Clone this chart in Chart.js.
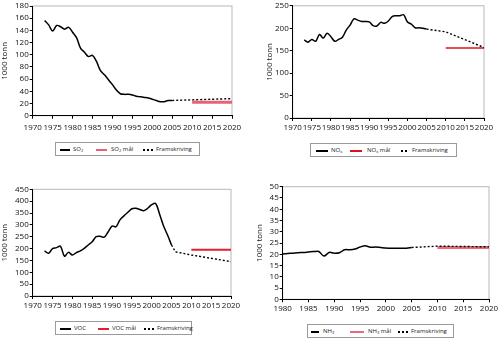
<!DOCTYPE html>
<html>
<head>
<meta charset="utf-8">
<script src="https://cdn.jsdelivr.net/npm/chart.js@4.4.1/dist/chart.umd.min.js"></script>
<style>
  body { margin: 0; width: 500px; height: 338px; background: #fff; position: relative; overflow: hidden; font-family: "Open Sans", sans-serif; }
  canvas { position: absolute; }
  .legend { position: absolute; border: 1px solid #9a9a9a; height: 14px; font-size: 6px; color: #222; box-sizing: border-box; }
  .legend .s { position: absolute; top: 6px; }
  .legend .t { position: absolute; top: 0; line-height: 12px; white-space: nowrap; }
  .legend sub { font-size: 4px; vertical-align: -1px; }
  .solid { height: 1.5px; background: #000; }
  .dash { height: 1.5px; background: repeating-linear-gradient(90deg, #000 0 2px, transparent 2px 4px); }
</style>
</head>
<body>
<canvas id="so2Chart" width="250" height="135" style="left:0;top:0"></canvas>
<canvas id="noxChart" width="235" height="138" style="left:265px;top:0"></canvas>
<canvas id="vocChart" width="250" height="135" style="left:0;top:180px"></canvas>
<canvas id="nh3Chart" width="245" height="140" style="left:255px;top:178px"></canvas>

<div class="legend" style="left:55px;top:142px;width:145px">
  <span class="s solid" style="left:4px;width:10px"></span><span class="t" style="left:17px">SO<sub>2</sub></span>
  <span class="s" style="left:40px;width:11px;height:2.5px;background:#e8607a;top:5.5px"></span><span class="t" style="left:55px">SO<sub>2</sub> mål</span>
  <span class="s dash" style="left:87px;width:10px"></span><span class="t" style="left:100px">Framskriving</span>
</div>
<div class="legend" style="left:310px;top:143px;width:147px">
  <span class="s solid" style="left:5px;width:12px"></span><span class="t" style="left:20px">NO<sub>x</sub></span>
  <span class="s" style="left:39px;width:12px;height:1.5px;background:#e0101e"></span><span class="t" style="left:56px">NO<sub>x</sub> mål</span>
  <span class="s dash" style="left:90px;width:8px"></span><span class="t" style="left:101px">Framskriving</span>
</div>
<div class="legend" style="left:55px;top:321px;width:137px">
  <span class="s solid" style="left:4px;width:11px"></span><span class="t" style="left:18px">VOC</span>
  <span class="s" style="left:42px;width:11px;height:1.8px;background:#e02030"></span><span class="t" style="left:56px">VOC mål</span>
  <span class="s dash" style="left:88px;width:10px"></span><span class="t" style="left:101px">Framskriving</span>
</div>
<div class="legend" style="left:307px;top:324px;width:147px">
  <span class="s solid" style="left:3px;width:8px"></span><span class="t" style="left:15px">NH<sub>3</sub></span>
  <span class="s" style="left:42px;width:14px;height:2.5px;background:#e86a7c;top:5.5px"></span><span class="t" style="left:60px">NH<sub>3</sub> mål</span>
  <span class="s dash" style="left:90px;width:10px"></span><span class="t" style="left:103px">Framskriving</span>
</div>

<script>
// SO2
var so2Years = [1973, 1974, 1975, 1976, 1977, 1978, 1979, 1980, 1981, 1982, 1983, 1984, 1985, 1986, 1987, 1988, 1989,
  1990, 1991, 1992, 1993, 1994, 1995, 1996, 1997, 1998, 1999, 2000, 2001, 2002, 2003, 2004, 2005];
var so2Values = [156, 149, 139, 148, 146, 142, 145, 137, 128, 111, 104, 97, 99, 89, 74, 67, 59,
  51, 42, 36, 35, 35, 34, 32, 31, 30, 29, 27, 25, 23, 23, 25, 25];
var so2GoalYears = [2010, 2020];
var so2GoalValues = [22, 22];
var so2ProjYears = [2005, 2010, 2020];
var so2ProjValues = [25, 26, 28];

// NOx
var noxYears = so2Years;
var noxValues = [174, 169, 175, 171, 186, 178, 189, 181, 171, 175, 180, 196, 207, 221, 218, 215, 215,
  214, 206, 205, 213, 211, 216, 226, 228, 228, 230, 214, 209, 201, 201, 200, 198];
var noxGoalYears = [2010, 2020];
var noxGoalValues = [156, 156];
var noxProjYears = [2005, 2010, 2020];
var noxProjValues = [198, 192, 157];

// VOC
var vocYears = so2Years;
var vocValues = [190, 180, 200, 204, 210, 168, 184, 173, 183, 190, 201, 215, 229, 250, 252, 248, 270,
  295, 292, 321, 338, 353, 368, 370, 365, 360, 370, 385, 390, 345, 295, 257, 215];
var vocGoalYears = [2010, 2020];
var vocGoalValues = [195, 195];
var vocProjYears = [2005, 2006, 2010, 2020];
var vocProjValues = [215, 186, 173, 145];

// NH3
var nh3Years = [1980, 1981, 1982, 1983, 1984, 1985, 1986, 1987, 1988, 1989, 1990, 1991, 1992,
  1993, 1994, 1995, 1996, 1997, 1998, 1999, 2000, 2001, 2002, 2003, 2004, 2005];
var nh3Values = [20.1, 20.3, 20.5, 20.7, 20.8, 21.0, 21.2, 21.2, 19.2, 20.8, 20.5, 20.7, 22.0,
  22.0, 22.3, 23.2, 23.8, 23.1, 23.2, 23.0, 22.8, 22.7, 22.7, 22.7, 22.7, 23.0];
var nh3GoalYears = [2010, 2020];
var nh3GoalValues = [23, 23];
var nh3ProjYears = [2005, 2010, 2020];
var nh3ProjValues = [23.0, 23.6, 23.3];

function pts(xs, ys) {
  return xs.map(function (x, i) {
    return { x: x, y: ys[i] };
  });
}

// gray box round the plot area, axes are drawn on top of it
var plotFrame = {
  id: "plotFrame",
  beforeDraw: function (chart) {
    var a = chart.chartArea;
    var ctx = chart.ctx;
    ctx.save();
    ctx.strokeStyle = "#b8b8b8";
    ctx.lineWidth = 1;
    ctx.strokeRect(a.left, a.top, a.right - a.left, a.bottom - a.top);
    ctx.restore();
  },
};

var tickFont = { family: "'Open Sans', sans-serif", size: 8 };

function makeChart(id, o) {
  return new Chart(document.getElementById(id), {
    type: "line",
    data: {
      datasets: [
        { data: pts(o.years, o.values), borderColor: "#000", borderWidth: 1.5, tension: 0.35, order: 0 },
        { data: pts(o.projYears, o.projValues), borderColor: "#000", borderWidth: 1.4, borderDash: [2, 2], order: 1 },
        { data: pts(o.goalYears, o.goalValues), borderColor: o.goalColor, borderWidth: o.goalWidth, order: 2 },
      ],
    },
    options: {
      responsive: false,
      animation: false,
      elements: { point: { radius: 0 } },
      layout: { padding: { top: o.padTop, right: o.padRight, left: 0, bottom: 0 } },
      scales: {
        x: {
          type: "linear",
          min: o.xMin,
          max: 2020,
          afterFit: function (s) { s.height = o.xH; },
          ticks: {
            stepSize: 5,
            autoSkip: false,
            maxRotation: 0,
            padding: o.xPad,
            color: "#111",
            font: tickFont,
            callback: function (v) { return String(v); },
          },
          grid: { drawOnChartArea: false, tickLength: 3, color: "#000" },
          border: { color: "#000" },
        },
        y: {
          min: 0,
          max: o.yMax,
          afterFit: function (s) { s.width = o.yW; },
          ticks: { stepSize: o.yStep, autoSkip: false, padding: 1, color: "#111", font: tickFont },
          grid: { drawOnChartArea: false, tickLength: 3, color: "#000" },
          border: { color: "#000" },
          title: { display: true, text: "1000 tonn", padding: 0, color: "#111", font: { family: "'Open Sans', sans-serif", size: 8 } },
        },
      },
      plugins: { legend: { display: false }, tooltip: { enabled: false } },
    },
    plugins: [plotFrame],
  });
}

makeChart("so2Chart", {
  years: so2Years, values: so2Values, projYears: so2ProjYears, projValues: so2ProjValues,
  goalYears: so2GoalYears, goalValues: so2GoalValues, goalColor: "#e8607a", goalWidth: 3,
  xMin: 1970, yMax: 180, yStep: 20, padTop: 6, padRight: 18, yW: 32.7, xH: 19.3, xPad: 4,
});
makeChart("noxChart", {
  years: noxYears, values: noxValues, projYears: noxProjYears, projValues: noxProjValues,
  goalYears: noxGoalYears, goalValues: noxGoalValues, goalColor: "#e0101e", goalWidth: 1.5,
  xMin: 1970, yMax: 250, yStep: 50, padTop: 5.7, padRight: 16, yW: 27.7, xH: 20, xPad: 2,
});
makeChart("vocChart", {
  years: vocYears, values: vocValues, projYears: vocProjYears, projValues: vocProjValues,
  goalYears: vocGoalYears, goalValues: vocGoalValues, goalColor: "#e02030", goalWidth: 1.8,
  xMin: 1970, yMax: 450, yStep: 50, padTop: 9.3, padRight: 19, yW: 32.7, xH: 19, xPad: 2,
});
makeChart("nh3Chart", {
  years: nh3Years, values: nh3Values, projYears: nh3ProjYears, projValues: nh3ProjValues,
  goalYears: nh3GoalYears, goalValues: nh3GoalValues, goalColor: "#e86a7c", goalWidth: 3,
  xMin: 1980, yMax: 50, yStep: 5, padTop: 8.7, padRight: 11, yW: 27.7, xH: 18.7, xPad: 1.5,
});
</script>
</body>
</html>
